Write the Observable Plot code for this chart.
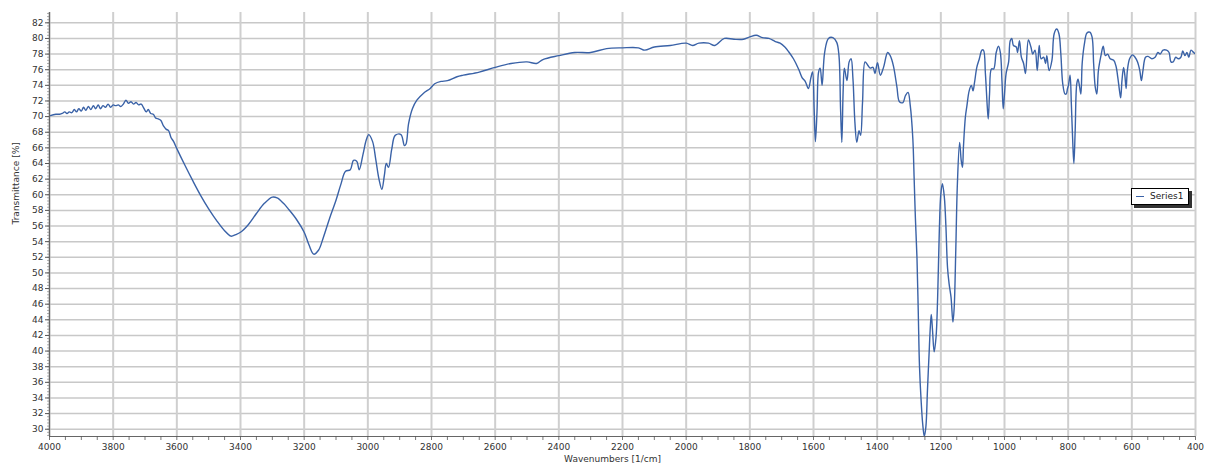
<!DOCTYPE html>
<html>
<head>
<meta charset="utf-8">
<script src="https://cdn.jsdelivr.net/npm/d3@7"></script>
<script src="https://cdn.jsdelivr.net/npm/@observablehq/plot@0.6"></script>
<style>
  body { margin: 0; background: #fff; font-family: "DejaVu Sans", Verdana, sans-serif; }
  #wrap { position: relative; width: 1206px; height: 466px; }
  #legend { position: absolute; left: 1131px; top: 188px; width: 56px; height: 15px;
    background: #fff; border: 1px solid #000; box-shadow: 3px 3px 0 #333;
    font-size: 9px; color: #222; }
  #legend .sw { position: absolute; left: 4px; top: 7px; width: 8px; height: 0; border-top: 1.3px solid #3a62a7; }
  #legend .lb { position: absolute; left: 18px; top: 2px; line-height: 11px; }
</style>
</head>
<body>
<div id="wrap"></div>
<script>
const wavenumbers = [4000,3980,3968,3960,3952,3945,3938,3930,3922,3915,3908,3900,3893,3886,3878,3870,3862,3855,3847,3840,3832,3824,3816,3808,3800,3792,3784,3776,3768,3760,3752,3744,3736,3728,3720,3712,3704,3696,3690,3682,3674,3666,3658,3650,3642,3634,3626,3618,3610,3600,3575,3550,3525,3500,3475,3450,3430,3415,3400,3375,3350,3325,3300,3285,3265,3250,3225,3200,3185,3170,3155,3140,3120,3100,3085,3070,3055,3045,3035,3027,3015,3005,2997,2985,2975,2965,2956,2948,2942,2935,2925,2914,2896,2885,2880,2872,2860,2846,2825,2804,2790,2770,2750,2720,2700,2650,2600,2550,2500,2470,2450,2400,2350,2300,2250,2200,2150,2130,2100,2050,2000,1980,1960,1930,1910,1880,1850,1820,1800,1780,1760,1740,1720,1705,1690,1678,1663,1647,1636,1626,1616,1608,1603,1598,1594,1589,1584,1579,1573,1565,1553,1539,1527,1520,1515,1511,1507,1503,1495,1488,1482,1476,1470,1464,1457,1452,1446,1438,1430,1422,1413,1407,1399,1390,1380,1367,1359,1349,1338,1330,1319,1311,1303,1296,1288,1284,1280,1275,1271,1267,1262,1257,1252,1247,1242,1236,1233,1230,1226,1221,1215,1210,1205,1200,1195,1189,1184,1179,1174,1168,1162,1158,1153,1148,1141,1136,1132,1129,1123,1118,1111,1104,1099,1094,1087,1079,1071,1066,1060,1054,1051,1047,1041,1034,1026,1019,1013,1008,1004,1000,995,987,982,977,972,963,959,953,947,940,934,925,917,911,904,897,891,885,877,871,867,860,851,844,836,829,823,817,810,806,802,799,794,790,785,782,778,773,769,764,760,756,749,741,732,725,720,715,710,705,697,690,683,676,668,657,650,644,638,635,631,626,622,618,614,607,598,590,582,575,570,565,557,549,537,527,518,511,502,491,483,477,470,462,454,446,440,433,427,421,414,406,400];
const transmittance = [70.1,70.3,70.3,70.4,70.6,70.4,70.6,70.5,70.9,70.6,71.0,70.7,71.2,70.8,71.3,70.9,71.4,71.0,71.5,71.0,71.4,71.2,71.6,71.2,71.5,71.4,71.5,71.3,71.6,72.1,71.7,71.9,71.6,71.8,71.5,71.6,71.1,70.6,70.9,70.4,70.3,69.8,69.7,69.5,68.8,68.4,68.2,67.3,66.8,65.9,63.8,61.8,59.9,58.2,56.7,55.4,54.7,54.9,55.2,56.2,57.6,58.9,59.7,59.6,58.9,58.2,56.9,55.2,53.6,52.4,52.9,54.5,57.0,59.3,61.3,63.0,63.2,64.4,64.3,63.2,65.2,67.0,67.7,66.8,64.5,62.0,60.7,62.5,64.0,63.5,65.8,67.6,67.7,66.3,66.5,69.1,71.0,72.1,73.0,73.6,74.2,74.5,74.6,75.1,75.3,75.7,76.3,76.8,77.0,76.8,77.3,77.8,78.2,78.2,78.7,78.8,78.8,78.5,78.9,79.1,79.4,79.1,79.4,79.4,79.1,80.0,79.9,79.9,80.2,80.4,80.1,80.0,79.6,79.4,78.9,78.3,77.4,76.1,75.0,74.5,73.6,75.0,75.7,71.0,66.8,70.6,75.7,76.2,74.0,78.2,80.0,80.1,79.5,77.8,71.0,66.7,73.1,76.2,74.6,77.0,77.4,74.8,69.3,66.7,68.2,67.6,71.8,77.0,76.6,76.2,76.3,75.5,76.9,75.3,76.3,78.2,77.8,76.5,73.8,71.9,71.8,72.7,73.1,71.4,67.2,62.3,57.1,52.0,45.2,38.0,33.7,30.7,29.1,30.3,35.0,40.5,43.1,44.7,42.6,39.9,41.8,46.9,55.0,60.1,61.4,59.7,55.9,50.7,48.6,46.9,43.7,45.6,53.0,61.4,66.7,64.4,63.5,66.1,69.9,71.4,73.3,74.0,73.3,74.4,76.3,77.4,78.5,78.5,75.5,71.2,69.7,72.9,76.1,76.1,78.2,79.0,78.2,74.6,71.0,72.9,75.5,77.0,79.7,80.0,79.1,78.9,78.2,79.7,77.6,76.8,75.5,79.8,78.9,78.0,78.5,75.9,79.1,77.4,77.6,76.8,77.8,75.9,77.2,80.6,81.2,80.6,78.0,74.2,72.9,72.9,73.6,74.0,75.3,71.6,66.1,64.0,68.2,74.2,74.8,73.8,72.9,76.8,79.3,80.7,80.8,80.2,76.8,73.8,72.9,75.9,77.8,79.0,77.8,78.0,77.4,77.2,76.5,75.0,73.1,72.4,74.6,76.3,75.3,73.6,75.9,77.4,77.9,77.6,77.0,75.9,74.6,75.9,77.6,77.7,77.4,77.6,78.2,78.0,78.5,78.5,78.2,77.0,77.0,77.6,77.4,77.6,78.4,77.8,78.2,77.6,78.5,78.2,78.0];
const xTicks = d3.range(4000, 399, -200);
const yTicks = d3.range(30, 83, 2);
const xMinor = d3.range(4000, 399, -50);
const yMinor = d3.range(29.2, 83.3, 0.4);
const seriesName = "Series1";
const xTitle = "Wavenumbers [1/cm]";
const yTitle = "Transmittance [%]";

const data = wavenumbers.map((w, i) => ({w, t: transmittance[i]}));

const chart = Plot.plot({
  width: 1206, height: 466,
  marginLeft: 49, marginRight: 11, marginTop: 12, marginBottom: 30,
  style: {fontFamily: "DejaVu Sans, Verdana, sans-serif", fontSize: "9px", color: "#333", background: "#fff", overflow: "visible"},
  x: {type: "linear", domain: [4000, 400]},
  y: {type: "linear", domain: [29.07, 83.32]},
  marks: [
    Plot.gridY(yTicks, {stroke: "#c8c8c8", strokeWidth: 1.5, strokeOpacity: 1}),
    Plot.gridX(xTicks, {stroke: "#cfcfcf", strokeWidth: 2, strokeOpacity: 1}),
    Plot.line(data, {x: "w", y: "t", stroke: "#3a62a7", strokeWidth: 1.4, curve: "catmull-rom", clip: true}),
    Plot.ruleX([4000], {stroke: "#666", strokeWidth: 1.2}),
    Plot.ruleY([29.07], {stroke: "#666", strokeWidth: 1.2}),
    Plot.axisY(yMinor, {tickSize: 2, text: null, label: null, stroke: "#777", strokeWidth: 0.6}),
    Plot.axisY(yTicks, {tickSize: 4, tickPadding: 2, label: null, stroke: "#555", fill: "#333", fontSize: 9, tickFormat: "d"}),
    Plot.axisX(xMinor, {tickSize: 4, text: null, label: null, stroke: "#555", strokeWidth: 0.8}),
    Plot.axisX(xTicks, {tickSize: 0, tickPadding: 7, label: null, fill: "#333", fontSize: 9, tickFormat: "d"}),
    Plot.text([xTitle], {frameAnchor: "bottom", dy: 25, dx: -10, fill: "#333", fontSize: 9}),
    Plot.text([yTitle], {frameAnchor: "left", dx: -33, rotate: -90, fill: "#333", fontSize: 9})
  ]
});
const wrap = document.getElementById("wrap");
wrap.appendChild(chart);
const lg = document.createElement("div");
lg.id = "legend";
lg.innerHTML = '<div class="sw"></div><div class="lb"></div>';
lg.querySelector(".lb").textContent = seriesName;
wrap.appendChild(lg);
</script>
</body>
</html>
